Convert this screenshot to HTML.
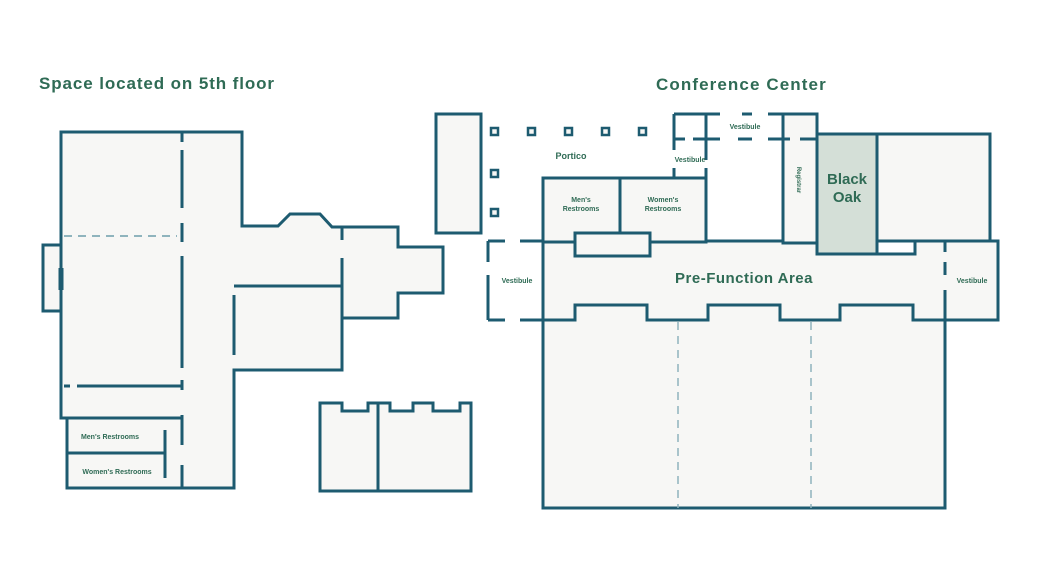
<!DOCTYPE html>
<html><head><meta charset="utf-8"><style>
html,body{margin:0;padding:0;background:#fff;}
svg{display:block;}
text{font-family:"Liberation Sans",sans-serif;fill:#2f6b55;}
</style></head><body>
<svg width="1040" height="586" viewBox="0 0 1040 586" xmlns="http://www.w3.org/2000/svg">
<g fill="#f7f7f5" stroke="#1d5b70" stroke-width="3" stroke-linejoin="miter">
<path d="M61 132 H242 V226 H278 L290 214 H320 L332 227 H398 V247 H443 V293 H398 V318 H342 V370 H234 V488 H67 V418 H61 Z"/>
<rect x="43" y="245" width="18" height="66"/>
<path d="M320 403 H342 V411 H368 V403 H390 V411 H413 V403 H433 V411 H460 V403 H471 V491 H320 Z"/>
<rect x="436" y="114" width="45" height="119"/>
<path d="M543 241 H575 V256 H650 V241 H783 V241 H841 V254 H915 V241 H945 V241 H998 V320 H945 V508 H543 Z"/>
<rect x="543" y="178" width="163" height="64"/>
<rect x="575" y="233" width="75" height="23"/>
<rect x="877" y="134" width="113" height="107"/>
<rect x="817" y="134" width="60" height="120" fill="#d4dfd7"/>
<rect x="783" y="114" width="34" height="129"/>
</g>
<g fill="none" stroke="#1d5b70" stroke-width="3">
<path d="M182 132 V142 M182 150 V208 M182 223 V242 M182 256 V368 M182 380 V390 M182 415 V445 M182 465 V488"/>
<path d="M234 286 H342 M234 295 V355 M342 226 V240 M342 258 V318"/>
<path d="M64 386 H70 M77 386 H182 M61 418 H182 M165 430 V478 M67 453 H165"/>
<path d="M61 268 V290" stroke-width="5"/>
<path d="M378 403 V491"/>
<path d="M674 114 H720 M742 114 H752 M768 114 H818 M674 114 V150 M706 114 V160 M674 168 V178 M706 168 V178"/>
<path d="M674 139 H685 M693 139 H720 M738 139 H752 M768 139 H790 M800 139 H818"/>
<path d="M620 178 V233"/>
<path d="M488 241 H505 M520 241 H543 M488 241 V262 M488 275 V320 M488 320 H505 M520 320 H543"/>
<path d="M543 320 H575 V305 H647 V320 H708 V305 H780 V320 H840 V305 H913 V320 H945"/>
<path d="M945 262 V275 M945 290 V320 M945 241 V252"/>
</g>
<path d="M64 236 H177" stroke="#8fb4bd" stroke-width="2" stroke-dasharray="8,6"/>
<path d="M678 322 V508 M811 322 V508" stroke="#8fb4bd" stroke-width="1.5" stroke-dasharray="8,6"/>
<g fill="#f7f7f5" stroke="#1d5b70" stroke-width="2.5">
<rect x="491" y="128" width="7" height="7"/><rect x="528" y="128" width="7" height="7"/>
<rect x="565" y="128" width="7" height="7"/><rect x="602" y="128" width="7" height="7"/>
<rect x="639" y="128" width="7" height="7"/>
<rect x="491" y="170" width="7" height="7"/><rect x="491" y="209" width="7" height="7"/>
</g>
<text x="39" y="89" font-size="17" font-weight="bold" letter-spacing="0.9">Space located on 5th floor</text>
<text x="656" y="90" font-size="17" font-weight="bold" letter-spacing="1.1">Conference Center</text>
<text x="744" y="283" font-size="15" font-weight="bold" text-anchor="middle" letter-spacing="0.5">Pre-Function Area</text>
<text x="847" y="184" font-size="15" font-weight="bold" text-anchor="middle">Black</text>
<text x="847" y="202" font-size="15" font-weight="bold" text-anchor="middle">Oak</text>
<g font-size="7" text-anchor="middle" font-weight="bold">
<text x="571" y="159" font-size="9">Portico</text>
<text x="745" y="129">Vestibule</text>
<text x="690" y="162">Vestibule</text>
<text x="517" y="283">Vestibule</text>
<text x="972" y="283">Vestibule</text>
<text x="581" y="202">Men's</text><text x="581" y="211">Restrooms</text>
<text x="663" y="202">Women's</text><text x="663" y="211">Restrooms</text>
<text x="110" y="439">Men's Restrooms</text>
<text x="117" y="474">Women's Restrooms</text>
<text transform="translate(797 180) rotate(90)" font-size="6">Registrar</text>
</g>
</svg>
</body></html>
